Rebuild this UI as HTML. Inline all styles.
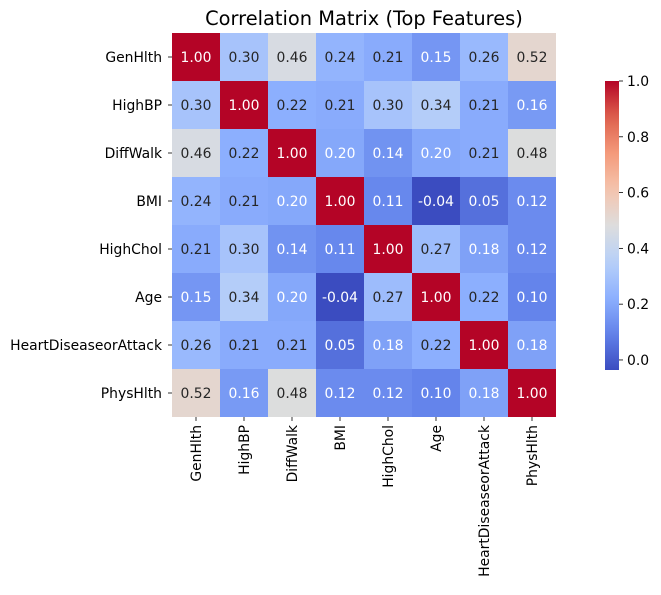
<!DOCTYPE html>
<html><head><meta charset="utf-8"><style>
body{margin:0;background:#fff;}
svg text{font-family:"DejaVu Sans","Liberation Sans",sans-serif;}
</style></head><body>
<svg id="chart" width="661" height="590" xmlns="http://www.w3.org/2000/svg">
<text x="364" y="25" font-size="19.4" text-anchor="middle" fill="#000">Correlation Matrix (Top Features)</text>
<defs><linearGradient id="cbg" x1="0" y1="1" x2="0" y2="0"></linearGradient></defs>
<g id="cells"></g><g id="ylab"></g><g id="xlab"></g><g id="cbar"></g>
</svg>
<script>
const labels=["GenHlth","HighBP","DiffWalk","BMI","HighChol","Age","HeartDiseaseorAttack","PhysHlth"];
const row0=[1.00,0.30,0.46,0.24,0.21,0.15,0.26,0.52];
const row1=[0.30,1.00,0.22,0.21,0.30,0.34,0.21,0.16];
const row2=[0.46,0.22,1.00,0.20,0.14,0.20,0.21,0.48];
const row3=[0.24,0.21,0.20,1.00,0.11,-0.04,0.05,0.12];
const row4=[0.21,0.30,0.14,0.11,1.00,0.27,0.18,0.12];
const row5=[0.15,0.34,0.20,-0.04,0.27,1.00,0.22,0.10];
const row6=[0.26,0.21,0.21,0.05,0.18,0.22,1.00,0.18];
const row7=[0.52,0.16,0.48,0.12,0.12,0.10,0.18,1.00];
const matrix=[row0,row1,row2,row3,row4,row5,row6,row7];
const cbTicks=[0.0,0.2,0.4,0.6,0.8,1.0];
const vmin=-0.036,vmax=1.0;
const NS="http://www.w3.org/2000/svg";
const X0=172,Y0=33,CW=48,CH=48;
const FS=13.9;
const stops=[[59,76,192],[98,130,234],[141,176,254],[184,208,249],[221,221,221],[245,196,173],[244,154,123],[222,96,77],[180,4,38]];
function cmap(v){let t=(v-vmin)/(vmax-vmin);t=Math.max(0,Math.min(1,t));const p=t*8,i=Math.min(7,Math.floor(p)),f=p-i;
return stops[i].map((c,k)=>Math.round(c+(stops[i+1][k]-c)*f));}
function lum(c){const l=c.map(x=>{x/=255;return x<=0.03928?x/12.92:Math.pow((x+0.055)/1.055,2.4);});return 0.2126*l[0]+0.7152*l[1]+0.0722*l[2];}
function xS(j){return X0+j*CW;}function yS(i){return Y0+i*CH;}
function el(t,a,p,txt){const e=document.createElementNS(NS,t);for(const k in a)e.setAttribute(k,a[k]);if(txt!==undefined)e.textContent=txt;p.appendChild(e);return e;}
const cells=document.getElementById('cells');
matrix.forEach((row,i)=>row.forEach((v,j)=>{
 const c=cmap(v);
 const r=el('rect',{x:xS(j),y:yS(i),width:CW,height:CH,fill:`rgb(${c})`},cells);
 
 
 const t=el('text',{x:xS(j)+CW/2,y:yS(i)+CH/2+5,'font-size':FS,'text-anchor':'middle',fill:lum(c)>0.408?'#262626':'#fff'},cells,v.toFixed(2));
 
 
}));
const yl=document.getElementById('ylab'),xl=document.getElementById('xlab');
labels.forEach((l,i)=>{
 el('line',{x1:X0-4,x2:X0,y1:yS(i)+CH/2,y2:yS(i)+CH/2,stroke:'#000','stroke-width':0.8},yl);
 const t=el('text',{x:X0-10,y:yS(i)+CH/2+5,'font-size':FS,'text-anchor':'end'},yl,l);
 
 
 const cx=xS(i)+CW/2,by=Y0+8*CH;
 el('line',{x1:cx,x2:cx,y1:by,y2:by+4,stroke:'#000','stroke-width':0.8},xl);
 const u=el('text',{x:0,y:0,'font-size':FS,'text-anchor':'end',transform:`translate(${cx+5},${by+8}) rotate(-90)`},xl,l);
 
 
});
const g=document.getElementById('cbg');
for(let k=0;k<=20;k++){const v=vmin+(vmax-vmin)*k/20;el('stop',{offset:(k*5)+'%','stop-color':`rgb(${cmap(v)})`},g);}
const cb=document.getElementById('cbar');
const CB_TOP=81,CB_BOT=370,CBX=605,CBW=14;
function cy(v){return CB_BOT-(v-vmin)/(vmax-vmin)*(CB_BOT-CB_TOP);}
const bar=el('rect',{x:CBX,y:CB_TOP,width:CBW,height:CB_BOT-CB_TOP,fill:'url(#cbg)'},cb);


cbTicks.forEach(v=>{
 el('line',{x1:CBX+CBW,x2:CBX+CBW+4,y1:cy(v),y2:cy(v),stroke:'#000','stroke-width':0.8},cb);
 const t=el('text',{x:CBX+CBW+8,y:cy(v)+5,'font-size':FS},cb,v.toFixed(1));
 
 
});
</script>
</body></html>
